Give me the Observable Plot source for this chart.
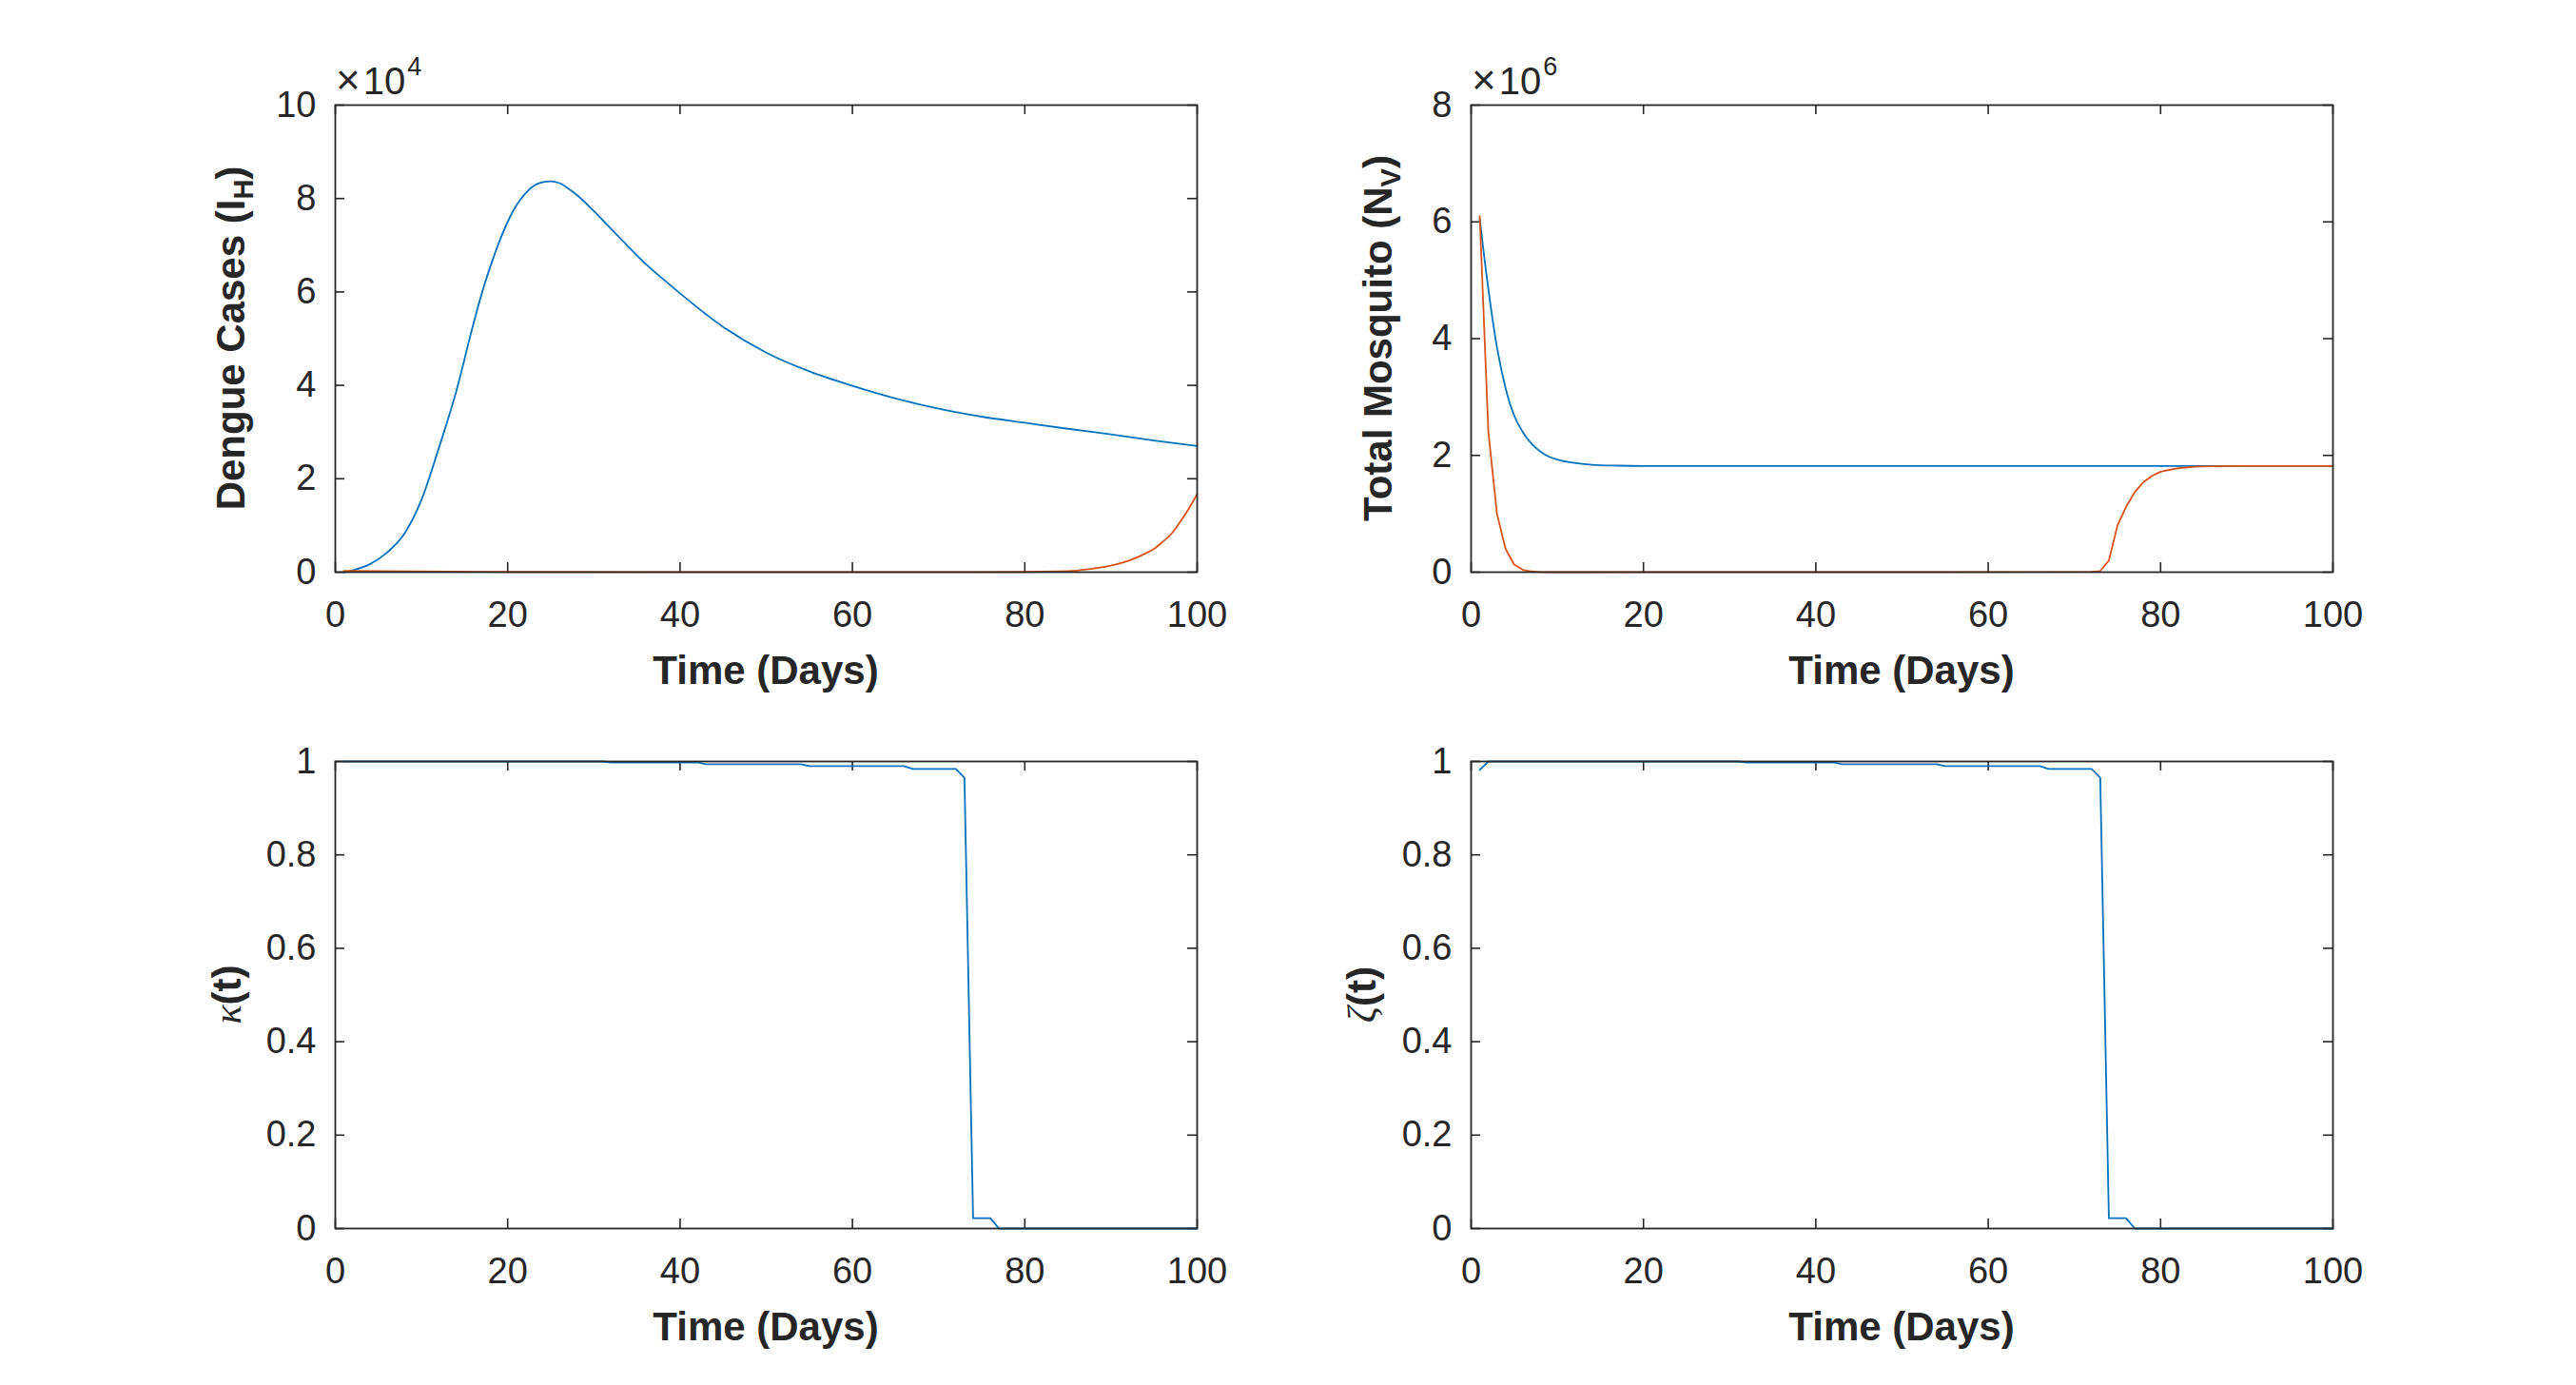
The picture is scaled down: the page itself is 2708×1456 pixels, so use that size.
<!DOCTYPE html>
<html><head><meta charset="utf-8">
<script src="https://cdn.jsdelivr.net/npm/d3@7"></script>
<script src="https://cdn.jsdelivr.net/npm/@observablehq/plot@0.6"></script>
<style>
html,body{margin:0;padding:0;background:#fff;}
#fig{position:relative;width:2708px;height:1456px;background:#fff;overflow:hidden;}
#fig svg{position:absolute;}
</style></head><body><div id="fig"></div>
<script>
// ---------- data ----------
const xTicks = [0, 20, 40, 60, 80, 100];
const yTicksIH = [0, 2, 4, 6, 8, 10];
const yTicksNV = [0, 2, 4, 6, 8];
const yTicksCtrl = [0, 0.2, 0.4, 0.6, 0.8, 1];

// Dengue cases I_H (x 10^4)
const ihBlueT = [1, 2, 4, 6, 8, 10, 12, 14, 16, 17, 18, 20, 21, 22, 23, 24, 25, 26, 27, 28, 30, 32, 34, 36, 38, 40, 45, 50, 55, 60, 65, 70, 75, 80, 85, 90, 95, 100];
const ihBlueV = [0.0, 0.04, 0.17, 0.42, 0.82, 1.55, 2.65, 3.85, 5.3, 5.97, 6.55, 7.5, 7.85, 8.1, 8.27, 8.35, 8.37, 8.33, 8.22, 8.08, 7.73, 7.35, 6.97, 6.6, 6.28, 5.97, 5.25, 4.7, 4.3, 3.99, 3.72, 3.5, 3.33, 3.2, 3.07, 2.95, 2.82, 2.7];
const ihRedT = [1, 5, 20, 40, 60, 80, 84, 86, 88, 90, 92, 94, 95, 96, 97, 98, 99, 100];
const ihRedV = [0.03, 0.02, 0.005, 0.003, 0.003, 0.005, 0.015, 0.035, 0.08, 0.14, 0.24, 0.4, 0.5, 0.65, 0.82, 1.07, 1.35, 1.67];

// Total mosquito N_V (x 10^6)
const nvBlueT = [1, 2, 3, 4, 5, 6, 7, 8, 9, 10, 12, 14, 17, 20, 100];
const nvBlueV = [6.05, 4.85, 3.85, 3.15, 2.68, 2.4, 2.2, 2.07, 1.98, 1.93, 1.87, 1.84, 1.825, 1.82, 1.82];
const nvRedT = [1, 2, 3, 4, 5, 6, 7, 8, 10, 72, 73, 74, 75, 76, 77, 78, 79, 80, 82, 84, 86, 90, 100];
const nvRedV = [6.1, 2.4, 1.0, 0.4, 0.13, 0.04, 0.012, 0.003, 0.0, 0.005, 0.02, 0.2, 0.8, 1.12, 1.37, 1.54, 1.65, 1.72, 1.78, 1.805, 1.815, 1.82, 1.82];

// Controls kappa(t), zeta(t)
const kappaT = [1, 31, 32, 42, 43, 54, 55, 66, 67, 72, 73, 74, 76, 77, 100];
const kappaV = [1, 1, 0.998, 0.998, 0.994, 0.994, 0.990, 0.990, 0.984, 0.984, 0.965, 0.022, 0.022, 0, 0];
const zetaT = [1, 2, 31, 32, 42, 43, 54, 55, 66, 67, 72, 73, 74, 76, 77, 100];
const zetaV = [0.982, 1, 1, 0.998, 0.998, 0.994, 0.994, 0.990, 0.990, 0.984, 0.984, 0.965, 0.022, 0.022, 0, 0];

// ---------- styling ----------
const BLUE = "#0072BD", RED = "#D95319", AX = "#262626";
const SANS = "'Liberation Sans', Arial, Helvetica, sans-serif";
const SERIF = "'Liberation Serif', 'Times New Roman', serif";
const zip = (T, V) => T.map((t, i) => ({t, v: V[i]}));

const fig = document.getElementById("fig");
const W = 1354, H = 728;

function panel(opt) {
  const {left, top, mL, mR, mT, mB, yDomain, yTicks, series, yLabel, labelGap, exponent} = opt;
  const pw = W - mL - mR, ph = H - mT - mB;
  const marks = [
    Plot.tickX(xTicks, {x: d => d, stroke: AX, strokeWidth: 1.6, insetTop: ph - 10}),
    Plot.tickX(xTicks, {x: d => d, stroke: AX, strokeWidth: 1.6, insetBottom: ph - 10}),
    Plot.tickY(yTicks, {y: d => d, stroke: AX, strokeWidth: 1.6, insetRight: pw - 10}),
    Plot.tickY(yTicks, {y: d => d, stroke: AX, strokeWidth: 1.6, insetLeft: pw - 10}),
    Plot.axisX({ticks: xTicks, tickSize: 0, tickPadding: 31, label: null, fontSize: 38, fill: AX, tickFormat: d => String(d)}),
    Plot.axisY({ticks: yTicks, tickSize: 0, tickPadding: 20, label: null, fontSize: 38, fill: AX, tickFormat: d => String(d)}),
    ...series.map(s => Plot.line(s.data, {x: "t", y: "v", stroke: s.color, strokeWidth: 1.8, curve: s.curve || "linear"})),
    Plot.frame({stroke: AX, strokeWidth: 1.8})
  ];
  const chart = Plot.plot({
    width: W, height: H,
    marginLeft: mL, marginRight: mR, marginTop: mT, marginBottom: mB,
    x: {domain: [0, 100]},
    y: {domain: yDomain},
    style: {fontFamily: SANS, color: AX, background: "transparent", overflow: "visible"},
    marks
  });
  chart.style.left = left + "px";
  chart.style.top = top + "px";
  const svg = d3.select(chart);
  // x label
  svg.append("text")
    .attr("x", mL + pw / 2).attr("y", mT + ph + 118)
    .attr("text-anchor", "middle").attr("font-family", SANS)
    .attr("font-size", 42).attr("font-weight", "bold").attr("fill", AX)
    .text("Time (Days)");
  // y label
  const yl = svg.append("text")
    .attr("transform", `translate(${mL - labelGap},${mT + ph / 2}) rotate(-90)`)
    .attr("text-anchor", "middle").attr("font-family", SANS)
    .attr("font-size", 42).attr("font-weight", "bold").attr("fill", AX);
  yLabel(yl);
  // exponent
  if (exponent) {
    const ex = svg.append("text")
      .attr("x", mL + 1).attr("y", mT - 11)
      .attr("text-anchor", "start")
      .attr("font-family", SANS).attr("font-size", 40).attr("fill", AX);
    ex.append("tspan").attr("font-size", 44).text("\u00D7");
    ex.append("tspan").attr("dx", 3).text("10");
    ex.append("tspan").attr("font-size", 27).attr("dy", -20).attr("dx", 2).text(exponent);
  }
  fig.appendChild(chart);
}

function subLabel(main, sub) {
  return t => {
    t.append("tspan").text(main);
    t.append("tspan").attr("font-size", 29).attr("dy", 9).text(sub);
    t.append("tspan").attr("dy", -9).text(")");
  };
}
function greekLabel(g) {
  return t => {
    t.append("tspan").attr("font-family", SERIF).attr("font-style", "italic").attr("font-weight", "normal").text(g);
    t.append("tspan").text("(t)");
  };
}

panel({left: 0, top: 0, mL: 352, mR: 96, mT: 110, mB: 127,
  yDomain: [0, 10], yTicks: yTicksIH, labelGap: 95, exponent: "4",
  series: [{data: zip(ihBlueT, ihBlueV), color: BLUE, curve: "monotone-x"},
           {data: zip(ihRedT, ihRedV), color: RED, curve: "monotone-x"}],
  yLabel: subLabel("Dengue Cases (I", "H")});

panel({left: 1354, top: 0, mL: 192, mR: 256, mT: 110, mB: 127,
  yDomain: [0, 8], yTicks: yTicksNV, labelGap: 83, exponent: "6",
  series: [{data: zip(nvBlueT, nvBlueV), color: BLUE, curve: "monotone-x"},
           {data: zip(nvRedT, nvRedV), color: RED}],
  yLabel: subLabel("Total Mosquito (N", "V")});

panel({left: 0, top: 728, mL: 352, mR: 96, mT: 72, mB: 165,
  yDomain: [0, 1], yTicks: yTicksCtrl, labelGap: 99,
  series: [{data: zip(kappaT, kappaV), color: BLUE}],
  yLabel: greekLabel("\u03BA")});

panel({left: 1354, top: 728, mL: 192, mR: 256, mT: 72, mB: 165,
  yDomain: [0, 1], yTicks: yTicksCtrl, labelGap: 100,
  series: [{data: zip(zetaT, zetaV), color: BLUE}],
  yLabel: greekLabel("\u03B6")});
</script>
</body></html>
